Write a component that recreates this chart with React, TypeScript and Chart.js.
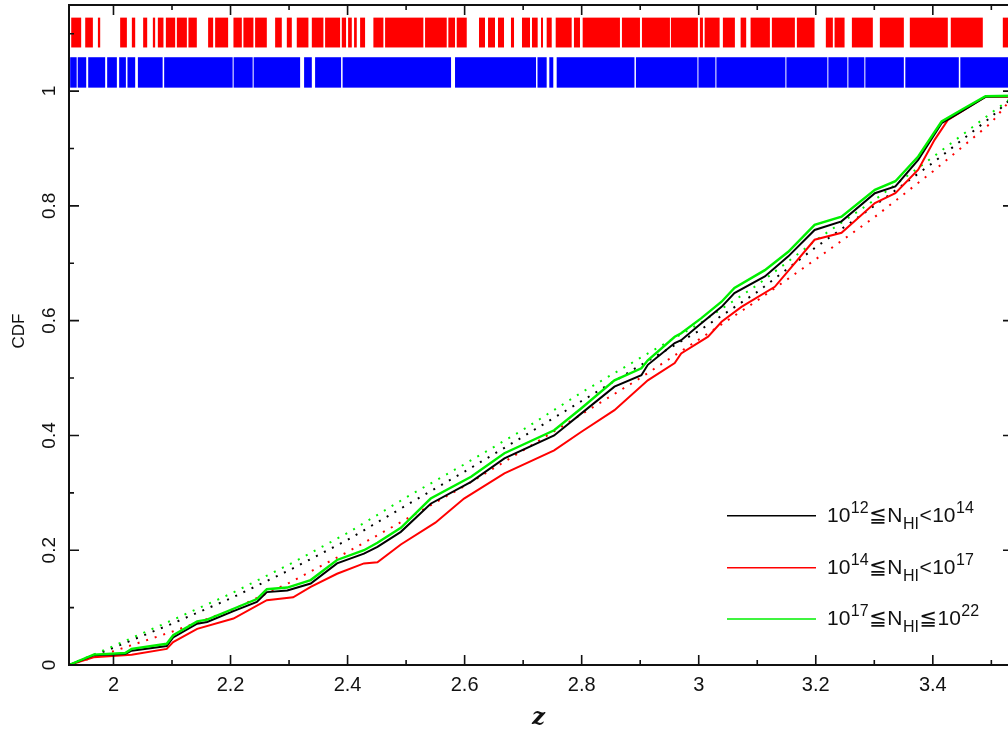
import { useEffect, useRef } from "react";
import { Chart, registerables } from "chart.js";

Chart.register(...registerables);

// ---------- axis ranges & ticks ----------
const Z_MIN = 1.924;
const Z_MAX = 3.537;
const CDF_MIN = 0;
const CDF_MAX = 1.15;
const xMajorTicks = [2, 2.2, 2.4, 2.6, 2.8, 3, 3.2, 3.4];
const xTickLabels = ["2", "2.2", "2.4", "2.6", "2.8", "3", "3.2", "3.4"];
const xMinorTicks = [2.1, 2.3, 2.5, 2.7, 2.9, 3.1, 3.3, 3.5];
const yMajorTicks = [0, 0.2, 0.4, 0.6, 0.8, 1];
const yTickLabels = ["0", "0.2", "0.4", "0.6", "0.8", "1"];
const yMinorTicks = [0.1, 0.3, 0.5, 0.7, 0.9, 1.1];

// ---------- observed CDFs (solid) ----------
const blackZ = [1.924, 1.966, 2.02, 2.031, 2.091, 2.102, 2.143, 2.16, 2.205, 2.245, 2.262, 2.297, 2.337, 2.382, 2.428, 2.451, 2.491, 2.542, 2.611, 2.668, 2.753, 2.799, 2.856, 2.902, 2.913, 2.959, 2.97, 3.004, 3.039, 3.061, 3.113, 3.153, 3.198, 3.244, 3.301, 3.336, 3.375, 3.415, 3.45, 3.49, 3.537];
const blackCdf = [0, 0.017, 0.019, 0.025, 0.033, 0.048, 0.072, 0.075, 0.094, 0.11, 0.127, 0.13, 0.142, 0.177, 0.194, 0.206, 0.232, 0.281, 0.319, 0.36, 0.4, 0.438, 0.485, 0.505, 0.523, 0.561, 0.566, 0.595, 0.624, 0.648, 0.677, 0.712, 0.758, 0.773, 0.822, 0.834, 0.88, 0.944, 0.965, 0.99, 0.991];

const greenZ = [1.924, 1.966, 2.02, 2.031, 2.091, 2.102, 2.143, 2.16, 2.205, 2.245, 2.262, 2.297, 2.337, 2.382, 2.428, 2.451, 2.491, 2.542, 2.611, 2.668, 2.753, 2.799, 2.856, 2.902, 2.913, 2.959, 2.97, 3.004, 3.039, 3.061, 3.113, 3.153, 3.198, 3.244, 3.301, 3.336, 3.375, 3.415, 3.45, 3.49, 3.537];
const greenCdf = [0, 0.018, 0.021, 0.028, 0.037, 0.052, 0.076, 0.079, 0.098, 0.115, 0.132, 0.135, 0.148, 0.183, 0.2, 0.213, 0.239, 0.29, 0.328, 0.369, 0.409, 0.447, 0.496, 0.517, 0.531, 0.572, 0.578, 0.604, 0.633, 0.657, 0.688, 0.72, 0.767, 0.781, 0.828, 0.843, 0.886, 0.947, 0.968, 0.991, 0.992];

const redZ = [1.924, 1.966, 2.031, 2.091, 2.102, 2.143, 2.205, 2.262, 2.307, 2.337, 2.382, 2.428, 2.451, 2.491, 2.55, 2.599, 2.668, 2.753, 2.799, 2.856, 2.913, 2.959, 2.97, 3.016, 3.039, 3.073, 3.13, 3.198, 3.244, 3.301, 3.336, 3.375, 3.403, 3.426, 3.472, 3.49, 3.537];
const redCdf = [0, 0.0136, 0.0178, 0.028, 0.04, 0.063, 0.081, 0.113, 0.118, 0.136, 0.159, 0.177, 0.179, 0.21, 0.248, 0.29, 0.334, 0.374, 0.406, 0.444, 0.496, 0.526, 0.543, 0.572, 0.598, 0.624, 0.659, 0.741, 0.753, 0.805, 0.822, 0.863, 0.915, 0.95, 0.979, 0.99, 0.99];

// ---------- expected CDFs (dotted) ----------
const dottedZ = [1.924, 2.0, 2.1, 2.2, 2.3, 2.4, 2.5, 2.6, 2.7, 2.8, 2.9, 3.0, 3.1, 3.2, 3.3, 3.4, 3.5, 3.537];
const greenDotted = [0, 0.033, 0.078, 0.124, 0.175, 0.23, 0.292, 0.35, 0.41, 0.475, 0.535, 0.594, 0.662, 0.74, 0.81, 0.885, 0.962, 0.99];
const blackDotted = [0, 0.03, 0.072, 0.116, 0.165, 0.218, 0.278, 0.337, 0.398, 0.46, 0.522, 0.582, 0.65, 0.728, 0.8, 0.875, 0.955, 0.99];
const redDotted = [0, 0.024, 0.058, 0.095, 0.143, 0.197, 0.254, 0.312, 0.374, 0.437, 0.5, 0.567, 0.635, 0.707, 0.78, 0.86, 0.945, 0.99];

// ---------- rug strips (z spans covered by absorber ticks) ----------
const redRugBand = [1.076, 1.128];
const blueRugBand = [1.006, 1.059];
const redRugSpans: [number, number][] = [
  [1.9278, 1.9448], [1.9517, 1.9648], [1.9734, 1.9773], [2.0114, 2.0229], [2.0314, 2.0371], [2.0507, 2.0576],
  [2.0673, 2.0712], [2.0758, 2.0854], [2.0895, 2.1054], [2.1083, 2.1254], [2.1281, 2.1424], [2.1617, 2.1703],
  [2.1737, 2.1959], [2.205, 2.2193], [2.222, 2.2391], [2.242, 2.262], [2.2762, 2.2876], [2.2962, 2.3047],
  [2.3132, 2.3331], [2.3389, 2.3587], [2.3616, 2.3872], [2.3901, 2.3974], [2.4009, 2.4072], [2.4111, 2.4157],
  [2.4214, 2.4299], [2.4441, 2.4612], [2.4641, 2.5295], [2.5324, 2.5694], [2.5722, 2.5836], [2.5865, 2.6036],
  [2.6246, 2.6348], [2.64, 2.6519], [2.657, 2.6673], [2.6792, 2.6844], [2.698, 2.7117], [2.7151, 2.7248],
  [2.7305, 2.7339], [2.7402, 2.7488], [2.7556, 2.7829], [2.7868, 2.7971], [2.8017, 2.8654], [2.8688, 2.8996],
  [2.903, 2.9508], [2.9525, 2.9986], [3.002, 3.0072], [3.0101, 3.0357], [3.0413, 3.0618], [3.0716, 3.0811],
  [3.0886, 3.1216], [3.125, 3.1643], [3.1677, 3.1979], [3.2172, 3.2292], [3.2321, 3.2492], [3.2617, 3.2975],
  [3.3095, 3.3505], [3.3607, 3.4256], [3.4307, 3.4854], [3.5196, 3.5366],
];
const blueRugSpans: [number, number][] = [
  [1.926, 1.9371], [1.9389, 1.9534], [1.9568, 1.9858], [1.9892, 2.0058], [2.0097, 2.0212], [2.0239, 2.0371],
  [2.0417, 2.084], [2.0866, 2.2036], [2.2053, 2.2378], [2.2395, 2.3189], [2.3257, 2.3389], [2.3445, 2.3889],
  [2.3915, 2.5768], [2.5836, 2.722], [2.7245, 2.7402], [2.7447, 2.7515], [2.7573, 2.8902], [2.8927, 2.9978],
  [2.9995, 3.0285], [3.0302, 3.1481], [3.1498, 3.2198], [3.2215, 3.254], [3.2557, 3.283], [3.2847, 3.3505],
  [3.353, 3.4444], [3.447, 3.5366],
];

const BLACK = "#000000";
const RED = "#ff0000";
const GREEN = "#00f000";
const BLUE = "#0000ff";
const FONT = '"Liberation Sans", Arial, "DejaVu Sans", sans-serif';

const legendEntries = [
  { color: BLACK, lo: "12", rel1: "\u2266", rel2: "<", hi: "14" },
  { color: RED, lo: "14", rel1: "\u2266", rel2: "<", hi: "17" },
  { color: GREEN, lo: "17", rel1: "\u2266", rel2: "\u2266", hi: "22" },
];

const zip = (xs: number[], ys: number[]) => xs.map((x, i) => ({ x, y: ys[i] }));

const framePlugin = {
  id: "frame",
  beforeDatasetsDraw(chart: any) {
    const { ctx, scales } = chart;
    const x = scales.x;
    const y = scales.y;
    ctx.save();
    const drawRug = (spans: [number, number][], band: number[], color: string) => {
      ctx.fillStyle = color;
      const yTop = y.getPixelForValue(band[1]);
      const yBot = y.getPixelForValue(band[0]);
      for (const [a, b] of spans) {
        const x0 = x.getPixelForValue(a);
        const x1 = x.getPixelForValue(b);
        ctx.fillRect(x0, yTop, Math.max(x1 - x0, 1.5), yBot - yTop);
      }
    };
    drawRug(redRugSpans, redRugBand, RED);
    drawRug(blueRugSpans, blueRugBand, BLUE);
    ctx.restore();
  },
  afterDraw(chart: any) {
    const { ctx, chartArea, scales } = chart;
    const x = scales.x;
    const y = scales.y;
    const { left, right, top, bottom } = chartArea;
    ctx.save();
    ctx.strokeStyle = "#111";
    ctx.lineWidth = 2;
    ctx.strokeRect(left, top, right - left, bottom - top);
    ctx.lineWidth = 1.6;
    ctx.beginPath();
    const xt = (v: number, len: number) => {
      const p = x.getPixelForValue(v);
      ctx.moveTo(p, bottom);
      ctx.lineTo(p, bottom - len);
      ctx.moveTo(p, top);
      ctx.lineTo(p, top + len);
    };
    const yt = (v: number, len: number) => {
      const p = y.getPixelForValue(v);
      ctx.moveTo(left, p);
      ctx.lineTo(left + len, p);
      ctx.moveTo(right, p);
      ctx.lineTo(right - len, p);
    };
    xMajorTicks.forEach((v) => xt(v, 10));
    xMinorTicks.forEach((v) => xt(v, 5));
    yMajorTicks.forEach((v) => yt(v, 10));
    yMinorTicks.forEach((v) => yt(v, 5));
    ctx.stroke();

    ctx.fillStyle = "#111";
    ctx.font = `20px ${FONT}`;
    ctx.textAlign = "center";
    ctx.textBaseline = "alphabetic";
    xMajorTicks.forEach((v, i) => {
      ctx.fillText(xTickLabels[i], x.getPixelForValue(v), 691);
    });
    ctx.font = `19px ${FONT}`;
    yMajorTicks.forEach((v, i) => {
      ctx.save();
      ctx.translate(55, y.getPixelForValue(v));
      ctx.rotate(-Math.PI / 2);
      ctx.fillText(yTickLabels[i], 0, 0);
      ctx.restore();
    });
    // axis titles
    ctx.save();
    ctx.font = `17px ${FONT}`;
    ctx.translate(24, (top + bottom) / 2 - 4);
    ctx.rotate(-Math.PI / 2);
    ctx.fillText("CDF", 0, 0);
    ctx.restore();
    ctx.font = `italic bold 23px "DejaVu Serif", "Liberation Serif", serif`;
    ctx.fillText("z", (left + 1008) / 2, 724);

    // legend
    const lx0 = 727;
    const lx1 = 816;
    const rows = [515.7, 567.7, 619];
    legendEntries.forEach((e, i) => {
      const ly = rows[i];
      ctx.strokeStyle = e.color;
      ctx.lineWidth = 1.6;
      ctx.beginPath();
      ctx.moveTo(lx0, ly);
      ctx.lineTo(lx1, ly);
      ctx.stroke();
      const base = ly + 6;
      let cx = 827;
      ctx.fillStyle = "#111";
      ctx.textAlign = "left";
      const big = `21px ${FONT}`;
      const small = `16px ${FONT}`;
      const seg = (t: string, f: string, dy: number) => {
        ctx.font = f;
        ctx.fillText(t, cx, base + dy);
        cx += ctx.measureText(t).width + 0.5;
      };
      seg("10", big, 0);
      seg(e.lo, small, -9);
      seg(e.rel1, big, 0);
      seg("N", big, 0);
      seg("HI", small, 7);
      seg(e.rel2, big, 0);
      seg("10", big, 0);
      seg(e.hi, small, -9);
    });
    ctx.restore();
  },
};

export default function App() {
  const ref = useRef<HTMLCanvasElement | null>(null);
  useEffect(() => {
    if (!ref.current) return;
    const solid = (label: string, xs: number[], ys: number[], color: string, w: number, order: number) => ({
      label,
      data: zip(xs, ys),
      borderColor: color,
      borderWidth: w,
      pointRadius: 0,
      tension: 0,
      fill: false,
      order,
    });
    const dotted = (label: string, ys: number[], color: string, order: number) => ({
      label,
      data: zip(dottedZ, ys),
      borderColor: color,
      borderWidth: 2,
      borderDash: [2, 7],
      pointRadius: 0,
      tension: 0,
      fill: false,
      order,
    });
    const chart = new Chart(ref.current, {
      type: "line",
      data: {
        datasets: [
          solid("green", greenZ, greenCdf, GREEN, 2.4, 0),
          solid("black", blackZ, blackCdf, BLACK, 2, 1),
          solid("red", redZ, redCdf, RED, 2, 2),
          dotted("green model", greenDotted, GREEN, 3),
          dotted("black model", blackDotted, BLACK, 4),
          dotted("red model", redDotted, RED, 5),
        ] as any,
      },
      options: {
        responsive: false,
        animation: false,
        devicePixelRatio: 1,
        layout: { padding: { left: 69, top: 5, right: 7, bottom: 73 } },
        plugins: { legend: { display: false }, tooltip: { enabled: false } },
        scales: {
          x: { type: "linear", min: Z_MIN, max: Z_MAX, display: false },
          y: { type: "linear", min: CDF_MIN, max: CDF_MAX, display: false },
        },
      },
      plugins: [framePlugin],
    });
    return () => chart.destroy();
  }, []);
  return (
    <div style={{ position: "fixed", left: 0, top: 0, width: 1008, height: 738, overflow: "hidden", background: "#fff" }}>
      <canvas ref={ref} width={1020} height={738} style={{ width: 1020, height: 738, display: "block" }} />
    </div>
  );
}
